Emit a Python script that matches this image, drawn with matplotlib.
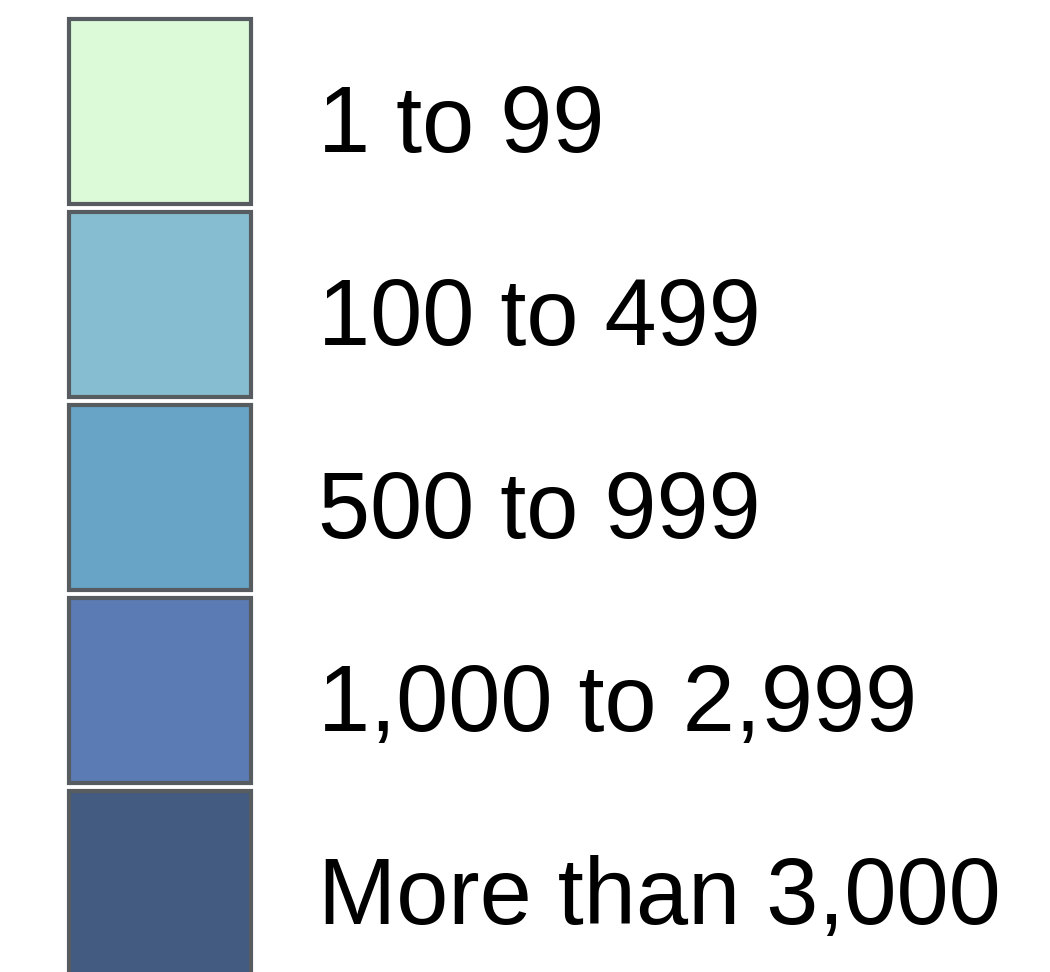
import matplotlib
matplotlib.use("Agg")
import matplotlib.pyplot as plt

# legend classes, top to bottom
labels = ["1 to 99", "100 to 499", "500 to 999", "1,000 to 2,999", "More than 3,000"]
colors = ["#dcf9d8", "#87bdd0", "#67a4c5", "#5b7bb4", "#435b80"]
rows = list(range(len(labels)))

plt.rcParams['font.family'] = ['Liberation Sans', 'DejaVu Sans']

fig = plt.figure(figsize=(10.5, 9.72), dpi=100)
ax = fig.add_axes([0, 0, 1, 1])

# one swatch per class, rows spaced ~193 px apart with a thin white gap
ax.barh(rows, [182] * len(rows), left=68.5, height=0.962, color=colors,
        edgecolor="#565c60", linewidth=3)

for i, lab in zip(rows, labels):
    ax.text(318, i + 0.21, lab, fontsize=67.5, color="black", va="baseline", ha="left")

ax.set_xlim(0, 1050)
ax.set_ylim(4.459, -0.578)
ax.axis("off")

fig.savefig("out.png", dpi=100, facecolor="white")
